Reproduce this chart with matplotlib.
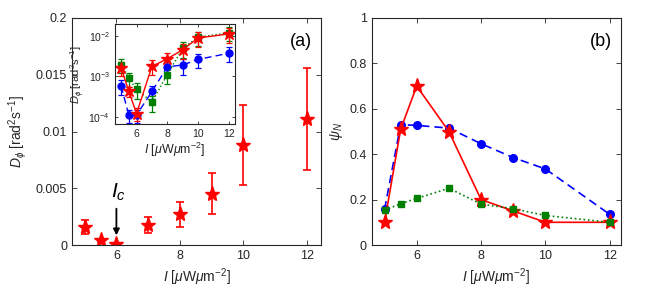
import matplotlib
matplotlib.use("Agg")
import matplotlib.pyplot as plt
import numpy as np

plt.rcParams['font.family'] = ['Liberation Sans', 'DejaVu Sans']
plt.rcParams['mathtext.fontset'] = 'custom'
plt.rcParams['mathtext.rm'] = 'Liberation Sans'
plt.rcParams['mathtext.it'] = 'Liberation Sans:italic'
plt.rcParams['mathtext.bf'] = 'Liberation Sans:bold'

# ---- data ----
intensity = [5, 5.5, 6, 7, 8, 9, 10, 12]

# panel (a): rotational diffusion D_phi (red stars)
d_red = [0.0016, 0.00042, 0.00012, 0.00175, 0.0027, 0.0045, 0.0088, 0.0111]
d_red_err = [0.0006, 0.00012, 0.00004, 0.0007, 0.0011, 0.0018, 0.0035, 0.0045]

# inset: blue circles and green squares
d_blue = [0.00057, 0.00011, 0.00011, 0.00042, 0.0017, 0.0019, 0.0026, 0.0037]
d_blue_err = [0.00022, 0.00004, 0.00004, 0.00016, 0.0006, 0.0008, 0.001, 0.0015]
d_green = [0.0019, 0.00088, 0.00048, 0.00023, 0.0011, 0.0049, 0.0092, 0.0118]
d_green_err = [0.0007, 0.00035, 0.0002, 0.0001, 0.00045, 0.002, 0.0035, 0.0045]

# panel (b): psi_N
psi_blue = [0.157, 0.53, 0.527, 0.515, 0.446, 0.385, 0.335, 0.135]
psi_red = [0.10, 0.51, 0.70, 0.50, 0.20, 0.15, 0.10, 0.10]
psi_green = [0.153, 0.182, 0.205, 0.25, 0.18, 0.16, 0.13, 0.10]

x_ticks = [6, 8, 10, 12]
a_yticks = [0, 0.005, 0.01, 0.015, 0.02]
a_yticklabels = ['0', '0.005', '0.01', '0.015', '0.2']
b_yticks = [0, 0.2, 0.4, 0.6, 0.8, 1.0]
b_yticklabels = ['0', '0.2', '0.4', '0.6', '0.8', '1']
inset_yticks = [1e-4, 1e-3, 1e-2]
inset_yticklabels = [r'10$^{-4}$', r'10$^{-3}$', r'10$^{-2}$']

RED = (1, 0, 0)
BLUE = (0, 0, 1)
GREEN = (0, 0.5, 0)
AXC = (0.15, 0.15, 0.15)

xlabel = r'$I$ [$\mu$W$\mu$m$^{-2}$]'

fig = plt.figure(figsize=(6.62, 2.9), dpi=100)

def style_axes(ax, fs=9):
    ax.tick_params(direction='in', top=True, right=True, length=3.5,
                   width=0.6, colors=AXC, labelsize=fs, labelcolor=AXC)
    for s in ax.spines.values():
        s.set_color(AXC)
        s.set_linewidth(0.8)

# ---- panel (a) ----
axa = fig.add_axes([72/662, 45/290, (321-72)/662, (245-18)/290])
axa.errorbar(intensity, d_red, yerr=d_red_err, fmt='*', color=RED,
             ms=11, capsize=3, elinewidth=1.2, capthick=1.2)
axa.set_xlim(4.6, 12.45)
axa.set_ylim(0, 0.02)
axa.set_xticks(x_ticks)
axa.set_yticks(a_yticks)
axa.set_yticklabels(a_yticklabels)
style_axes(axa)
axa.set_xlabel(xlabel, fontsize=10, color=AXC, labelpad=3)
axa.set_ylabel(r'$D_\phi$ [rad$^2$s$^{-1}$]', fontsize=10, color=AXC, labelpad=5)
axa.text(0.965, 0.895, '(a)', transform=axa.transAxes, fontsize=13,
         ha='right', va='center', color='black')
axa.annotate('', xy=(6, 0.00085), xytext=(6, 0.0032),
             arrowprops=dict(arrowstyle='-|>', color='black', lw=1.3,
                             mutation_scale=9, shrinkA=0, shrinkB=0))
axa.text(6.05, 0.0037, r'$I_c$', fontsize=15, ha='center', va='bottom', color='black')

# ---- inset ----
axi = fig.add_axes([115/662, (290-124.3)/290, (235-115)/662, (124.3-24)/290])
axi.errorbar(intensity, d_blue, yerr=d_blue_err, fmt='o', ls=(0, (5, 3)),
             color=BLUE, ms=5, capsize=2.5, lw=1, elinewidth=0.9, capthick=0.9)
axi.errorbar(intensity, d_green, yerr=d_green_err, fmt='s', ls=':',
             color=GREEN, ms=4, capsize=2.5, lw=1, elinewidth=0.9, capthick=0.9)
axi.errorbar(intensity, d_red, yerr=d_red_err, fmt='*', ls='-',
             color=RED, ms=9, capsize=2.5, lw=1, elinewidth=0.9, capthick=0.9)
axi.set_yscale('log')
axi.set_xlim(4.6, 12.4)
axi.set_ylim(6.5e-5, 1.95e-2)
axi.set_xticks(x_ticks)
axi.set_yticks(inset_yticks)
axi.set_yticklabels(inset_yticklabels)
axi.minorticks_off()
style_axes(axi, fs=7.5)
axi.tick_params(length=2.5)
axi.set_xlabel(xlabel, fontsize=9, color=AXC, labelpad=1)
axi.set_ylabel(r'$D_\phi$ [rad$^2$s$^{-1}$]', fontsize=8, color=AXC, labelpad=1)

# ---- panel (b) ----
axb = fig.add_axes([371.7/662, 45/290, (621-371.7)/662, (245-18)/290])
axb.plot(intensity, psi_blue, ls=(0, (5, 3)), marker='o', color=BLUE, ms=5.5, lw=1.2)
axb.plot(intensity, psi_red, ls='-', marker='*', color=RED, ms=11, lw=1.2)
axb.plot(intensity, psi_green, ls=':', marker='s', color=GREEN, ms=4.5, lw=1.2)
axb.set_xlim(4.6, 12.35)
axb.set_ylim(0, 1)
axb.set_xticks(x_ticks)
axb.set_yticks(b_yticks)
axb.set_yticklabels(b_yticklabels)
style_axes(axb)
axb.set_xlabel(xlabel, fontsize=10, color=AXC, labelpad=3)
axb.set_ylabel(r'$\psi_N$', fontsize=10, color=AXC, labelpad=3)
axb.text(0.965, 0.895, '(b)', transform=axb.transAxes, fontsize=13,
         ha='right', va='center', color='black')

fig.savefig('out.png', dpi=100)
